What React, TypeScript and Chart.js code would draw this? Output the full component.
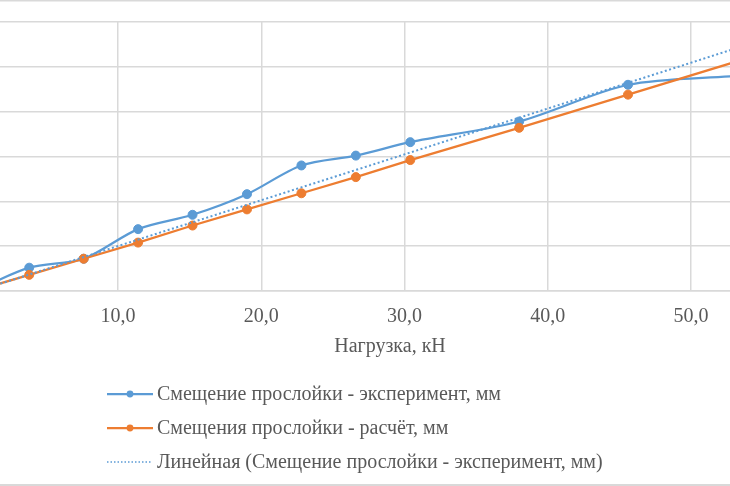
import React, { useEffect, useRef } from "react";
import { Chart, registerables, ChartConfiguration, Plugin } from "chart.js";

Chart.register(...registerables);

// load, kN
const loads = [0, 3.8, 7.6, 11.4, 15.2, 19.0, 22.8, 26.6, 30.4, 38.0, 45.6, 53.2];
// measured shift of the interlayer, mm
const experiment = [0, 0.26, 0.36, 0.69, 0.85, 1.08, 1.40, 1.51, 1.66, 1.89, 2.30, 2.40];
// calculated shift, mm
const calculated = [0, 0.18, 0.36, 0.54, 0.73, 0.91, 1.09, 1.27, 1.46, 1.82, 2.19, 2.56];
const trendX = [0, 53.2];
const trendY = [-0.01, 2.71];
const xTicks = [10, 20, 30, 40, 50];

const labels = [
  "Смещение прослойки - эксперимент, мм",
  "Смещения прослойки - расчёт, мм",
  "Линейная (Смещение прослойки - эксперимент, мм)",
];
const axisTitle = "Нагрузка, кН";

const BLUE = "#5B9BD5";
const ORANGE = "#ED7D31";
const GRID = "#D9D9D9";
const TEXT = "#595959";
const FONT = "'Liberation Serif', 'Times New Roman', serif";

const pairs = (xs: number[], ys: number[]) => xs.map((x, i) => ({ x, y: ys[i] }));

/** axis title, legend and the frame lines, drawn after the chart */
const decorations: Plugin = {
  id: "decorations",
  afterDraw(chart) {
    const ctx = chart.ctx;
    ctx.save();
    ctx.fillStyle = GRID;
    ctx.fillRect(0, 0, chart.width, 1.5);
    ctx.fillRect(0, 484, chart.width, 2);

    ctx.font = `20px ${FONT}`;
    ctx.fillStyle = TEXT;
    ctx.textBaseline = "middle";
    ctx.textAlign = "center";
    ctx.fillText(axisTitle, 390, 347);

    ctx.textAlign = "left";
    const rows = [394, 428, 462];
    const colors = [BLUE, ORANGE, BLUE];
    rows.forEach((y, i) => {
      ctx.strokeStyle = colors[i];
      ctx.fillStyle = colors[i];
      if (i < 2) {
        ctx.lineWidth = 2.25;
        ctx.setLineDash([]);
        ctx.beginPath();
        ctx.moveTo(107, y);
        ctx.lineTo(153, y);
        ctx.stroke();
        ctx.beginPath();
        ctx.arc(130, y, 3.4, 0, Math.PI * 2);
        ctx.fill();
      } else {
        ctx.lineWidth = 1.5;
        ctx.setLineDash([1.5, 2]);
        ctx.beginPath();
        ctx.moveTo(107, y);
        ctx.lineTo(151, y);
        ctx.stroke();
        ctx.setLineDash([]);
      }
      ctx.fillStyle = TEXT;
      ctx.fillText(labels[i], 157, y + 1);
    });
    ctx.restore();
  },
};

export default function App() {
  const canvas = useRef<HTMLCanvasElement>(null);

  useEffect(() => {
    document.body.style.margin = "0";
    const config: ChartConfiguration = {
      type: "line",
      data: {
        datasets: [
          {
            label: labels[0],
            data: pairs(loads, experiment),
            borderColor: BLUE,
            backgroundColor: BLUE,
            borderWidth: 2.25,
            pointRadius: 4.5,
            pointBorderWidth: 1,
            tension: 0.3,
            order: 3,
          },
          {
            label: labels[1],
            data: pairs(loads, calculated),
            borderColor: ORANGE,
            backgroundColor: ORANGE,
            borderWidth: 2.25,
            pointRadius: 4.5,
            pointBorderWidth: 1,
            tension: 0,
            order: 2,
          },
          {
            label: labels[2],
            data: pairs(trendX, trendY),
            borderColor: BLUE,
            borderWidth: 2,
            borderDash: [2, 2.5],
            pointRadius: 0,
            tension: 0,
            order: 1,
          },
        ],
      },
      options: {
        animation: false,
        responsive: false,
        layout: {
          autoPadding: false,
          padding: { top: 22, left: 0, right: 0, bottom: 143 },
        },
        plugins: {
          legend: { display: false },
          tooltip: { enabled: false },
        },
        scales: {
          x: {
            type: "linear",
            min: 1.76,
            max: 52.72,
            afterBuildTicks: (axis) => {
              axis.ticks = xTicks.map((value) => ({ value }));
            },
            ticks: {
              autoSkip: false,
              maxRotation: 0,
              padding: 14,
              color: TEXT,
              font: { family: FONT, size: 20 },
              callback: (v) => Number(v).toFixed(1).replace(".", ","),
            },
            grid: { color: GRID, lineWidth: 1.5, drawTicks: false },
            border: { color: GRID, width: 1.5 },
          },
          y: {
            min: 0,
            max: 3,
            afterFit: (axis) => {
              axis.width = 0;
            },
            ticks: { display: false, stepSize: 0.5 },
            grid: { color: GRID, lineWidth: 1.5, drawTicks: false },
            border: { display: false },
          },
        },
      },
      plugins: [decorations],
    };
    const chart = new Chart(canvas.current!.getContext("2d")!, config);
    return () => chart.destroy();
  }, []);

  return (
    <canvas ref={canvas} width={730} height={486} style={{ display: "block" }} />
  );
}
